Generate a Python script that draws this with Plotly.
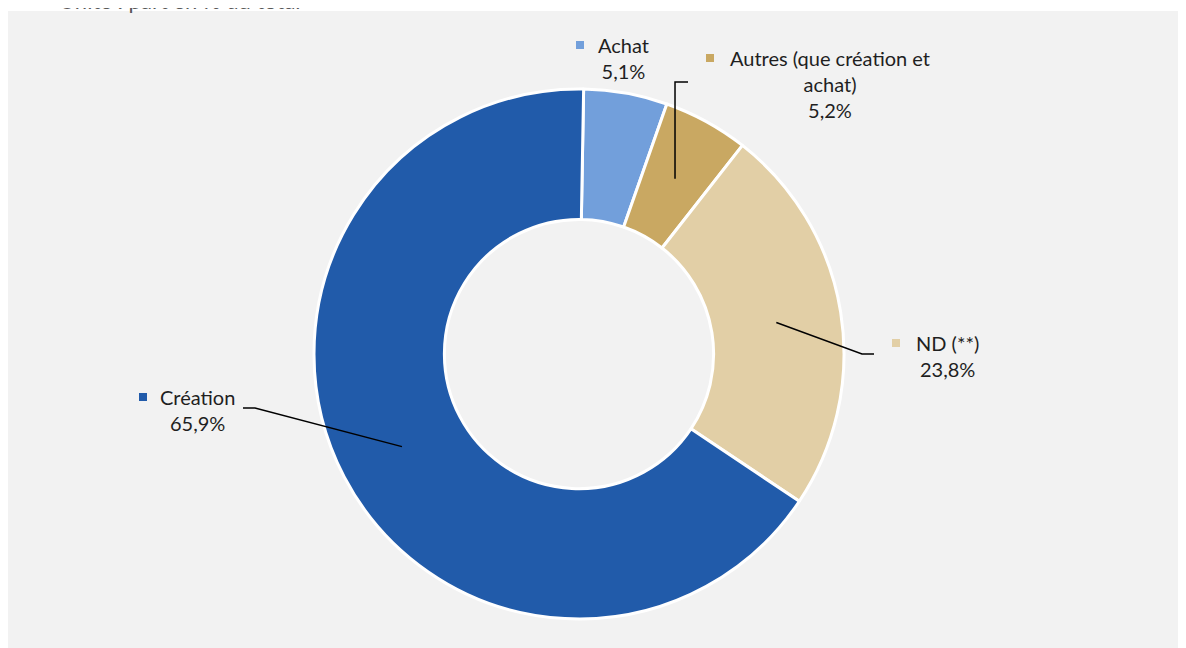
import math
import plotly.graph_objects as go

# data
categories = ["Achat", "Autres (que création et achat)", "ND (**)", "Création"]
label_lines = ["Achat", "Autres (que création et<br>achat)", "ND (**)", "Création"]
values = [5.1, 5.2, 23.8, 65.9]
colors = ["#729FDB", "#C9A862", "#E2CFA6", "#215BAA"]

W, H = 1186, 648
OFF = 8  # page body margin
CX, CY, R_OUT = 579, 354, 265
HOLE = 0.508
ROT = 1


def px(x):
    return (x - OFF) / W


def py(y):
    return 1 - (y - OFF) / H


def fmt(v):
    return f"{v:.1f}".replace(".", ",") + "%"


fig = go.Figure()
fig.add_trace(go.Pie(
    labels=categories,
    values=values,
    hole=HOLE,
    sort=False,
    rotation=ROT,
    direction="clockwise",
    marker=dict(colors=colors, line=dict(color="white", width=3)),
    textinfo="none",
    hoverinfo="label+percent",
    showlegend=False,
    domain=dict(x=[px(CX - R_OUT), px(CX + R_OUT)],
                y=[py(CY + R_OUT), py(CY - R_OUT)]),
))

# mid-angle / mid-ring point for each slice (leader line anchors)
total = sum(values)
r_mid = R_OUT * (1 + HOLE) / 2
anchors = []
cum = 0
for v in values:
    a = math.radians((cum + v / 2) / total * 360 + ROT)
    anchors.append((CX + r_mid * math.sin(a), CY - r_mid * math.cos(a)))
    cum += v

# label placement (text centre x, first-line y, key x)
label_pos = [
    (623, 45, 580),
    (830, 58, 710),
    (947, 343, 896),
    (197, 397, 143),
]

shapes = [dict(type="rect", xref="paper", yref="paper", x0=0, x1=1,
               y0=0, y1=py(11), fillcolor="#F2F2F2", line=dict(width=0),
               layer="below")]
annotations = []
FS = 20
for i, (tx, ty, kx) in enumerate(label_pos):
    annotations.append(dict(
        x=px(tx), y=py(ty - FS * 0.68), xref="paper", yref="paper",
        xanchor="center", yanchor="top", showarrow=False, align="center",
        text=label_lines[i] + "<br>" + fmt(values[i]),
        font=dict(family="Lato", size=FS, color="#1F1F1F"),
    ))
    shapes.append(dict(type="rect", xref="paper", yref="paper",
                       x0=px(kx - 4), x1=px(kx + 4), y0=py(ty + 4), y1=py(ty - 4),
                       fillcolor=colors[i], line=dict(width=0)))


# leader lines
def path(pts):
    return "M " + " L ".join(f"{px(x)},{py(y)}" for x, y in pts)


ax, ay = anchors[1]
shapes.append(dict(type="path", xref="paper", yref="paper",
                   path=path([(ax, ay), (ax, 82), (ax + 13, 82)]),
                   line=dict(color="black", width=1.5)))
ax, ay = anchors[2]
shapes.append(dict(type="path", xref="paper", yref="paper",
                   path=path([(ax, ay), (862, 354), (874, 354)]),
                   line=dict(color="black", width=1.5)))
ax, ay = anchors[3]
shapes.append(dict(type="path", xref="paper", yref="paper",
                   path=path([(ax, ay), (255, 408), (243, 408)]),
                   line=dict(color="black", width=1.5)))

# subtitle, mostly above the visible page as in the source
annotations.append(dict(
    x=px(57), y=py(16), xref="paper", yref="paper", xanchor="left",
    yanchor="bottom", showarrow=False, text="Unité : part en % du total",
    font=dict(family="Lato", size=22, color="#595959"),
))

fig.update_layout(
    width=W, height=H,
    margin=dict(l=0, r=0, t=0, b=0),
    paper_bgcolor="white",
    shapes=shapes,
    annotations=annotations,
)

fig.write_html("out.html",
               post_script="document.documentElement.style.overflow='hidden';")
